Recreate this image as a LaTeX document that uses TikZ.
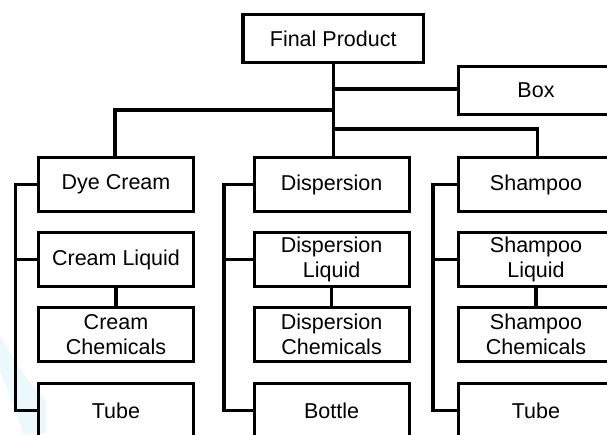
\documentclass[tikz,border=0pt]{standalone}
\usepackage{fontspec}
\setmainfont{Liberation Sans}
\begin{document}
\begin{tikzpicture}[x=1pt,y=-1pt,
  every node/.style={font=\fontsize{21.5}{25.5}\selectfont},
  bx/.style={draw=black,line width=3.2pt,rectangle,minimum width=155pt,minimum height=54pt,inner sep=0pt,align=center},
  ln/.style={draw=black,line width=3.2pt,line cap=rect}]
\useasboundingbox (0,0) rectangle (607,434);
\clip (0,0) rectangle (607,434);
% faint watermark
\fill[cyan!10,opacity=0.8] (0,335) .. controls (14,360) and (26,380) .. (46,400) -- (46,434) -- (23,434) .. controls (14,405) and (6,385) .. (0,372) -- cycle;
% nodes
\node[bx,minimum width=180.5pt,minimum height=48pt] (fp) at (333.2,38.5) {Final Product};
\node[bx,minimum height=48pt] (box) at (536,90.5) {Box};
\node[bx] (dye) at (116,184.5) {Dye Cream};
\node[bx] (dis) at (331.6,184.5) {Dispersion};
\node[bx] (sha) at (536,184.5) {Shampoo};
\node[bx] (cl) at (116,259.5) {Cream Liquid};
\node[bx] (dl) at (331.6,259.5) {Dispersion\\Liquid};
\node[bx] (sl) at (536,259.5) {Shampoo\\Liquid};
\node[bx] (cc) at (116,334.5) {Cream\\Chemicals};
\node[bx] (dc) at (331.6,334.5) {Dispersion\\Chemicals};
\node[bx] (sc) at (536,334.5) {Shampoo\\Chemicals};
\node[bx] (t1) at (116,410.5) {Tube};
\node[bx] (t2) at (331.6,410.5) {Bottle};
\node[bx] (t3) at (536,410.5) {Tube};
% coordinates
\coordinate (j1) at (333.2,89);
\coordinate (j2) at (333.2,110);
\coordinate (j3) at (333.2,129);
\coordinate (bd) at (15.1,184.5);
\coordinate (bs) at (224,184.5);
\coordinate (bh) at (433,184.5);
% trunk
\draw[ln] (fp.south) -- (fp.south |- dis.north);
\draw[ln] (j1) -- (box.west |- j1);
\draw[ln] (j2) -| (115,0 |- dye.north);
\draw[ln] (j3) -| (537.5,0 |- sha.north);
% buses
\draw[ln] (dye.west) -- (bd) -- (bd |- t1.west) -- (t1.west);
\draw[ln] (bd |- cl.west) -- (cl.west);
\draw[ln] (dis.west) -- (bs) -- (bs |- t2.west) -- (t2.west);
\draw[ln] (bs |- dl.west) -- (dl.west);
\draw[ln] (sha.west) -- (bh) -- (bh |- t3.west) -- (t3.west);
\draw[ln] (bh |- sl.west) -- (sl.west);
% liquid-chemicals
\draw[ln] (cl.south) -- (cc.north);
\draw[ln] (dl.south) -- (dc.north);
\draw[ln] (sl.south) -- (sc.north);
\end{tikzpicture}
\end{document}
